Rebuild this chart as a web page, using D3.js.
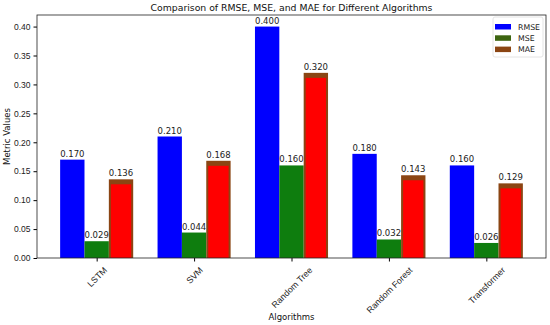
<!DOCTYPE html>
<html lang="en">
<head>
<meta charset="UTF-8">
<title>RMSE MSE MAE</title>
<script src="https://cdn.jsdelivr.net/npm/d3@7"></script>
<style>
    body { margin: 0; background: #fff; }
    svg { font-family: "DejaVu Sans", sans-serif; }
    .tick text { fill: #222; }
</style>
</head>
<body>
<svg id="chart" width="550" height="325"></svg>
<script>
    var algorithms = ["LSTM", "SVM", "Random Tree", "Random Forest", "Transformer"];
    var rmse = [0.170, 0.210, 0.400, 0.180, 0.160];
    var mse = [0.029, 0.044, 0.160, 0.032, 0.026];
    var mae = [0.136, 0.168, 0.320, 0.143, 0.129];
    var yTicks = [0, 0.05, 0.10, 0.15, 0.20, 0.25, 0.30, 0.35, 0.40];

    var series = [
        {name: "RMSE", values: rmse, color: "#0000ff", swatch: "#0000ff"},
        {name: "MSE", values: mse, color: "#0e7d0e", swatch: "#3c6410"},
        {name: "MAE", values: mae, color: "#ff0000", swatch: "#8b4513"}
    ];

    var m = {left: 37, right: 546, top: 15, bottom: 258};
    var svg = d3.select("#chart");

    var x = d3.scaleLinear().domain([-0.6125, 4.6125]).range([m.left, m.right]);
    var y = d3.scaleLinear().domain([0, 0.42]).range([m.bottom, m.top]);
    var barW = 0.25;

    // bars
    series.forEach(function(s, i) {
        var g = svg.append("g");
        var off = (i - 1) * barW;
        g.selectAll("rect.bar")
            .data(s.values)
            .enter()
            .append("rect")
            .attr("class", "bar")
            .attr("x", function(d, j) { return x(j + off - barW / 2); })
            .attr("width", x(barW) - x(0))
            .attr("y", function(d) { return y(d); })
            .attr("height", function(d) { return m.bottom - y(d); })
            .attr("fill", s.name === "MAE" ? s.swatch : s.color);

        if (s.name === "MAE") {
            g.selectAll("rect.inner")
                .data(s.values)
                .enter()
                .append("rect")
                .attr("class", "inner")
                .attr("x", function(d, j) { return x(j + off - barW / 2) + 2; })
                .attr("width", x(barW) - x(0) - 4)
                .attr("y", function(d) { return y(d) + 5; })
                .attr("height", function(d) { return m.bottom - y(d) - 5; })
                .attr("fill", s.color);
        }

        g.selectAll("text")
            .data(s.values)
            .enter()
            .append("text")
            .attr("x", function(d, j) { return x(j + off); })
            .attr("y", function(d) { return y(d) - 3; })
            .attr("text-anchor", "middle")
            .attr("font-size", "8.5px")
            .attr("fill", "#222")
            .text(function(d) { return d3.format(".3f")(d); });
    });

    // axes
    var yAxis = d3.axisLeft(y).tickValues(yTicks).tickFormat(d3.format(".2f")).tickSize(3.5).tickPadding(3);
    svg.append("g")
        .attr("transform", "translate(" + m.left + ",0)")
        .call(yAxis)
        .call(function(g) { g.select(".domain").remove(); })
        .selectAll("text").attr("font-size", "8.5px");

    var xAxis = d3.axisBottom(x).tickValues(d3.range(algorithms.length))
        .tickFormat(function(d) { return algorithms[d]; }).tickSize(3.5);
    var xg = svg.append("g")
        .attr("transform", "translate(0," + m.bottom + ")")
        .call(xAxis);
    xg.select(".domain").remove();
    // rotated labels centred on the tick, top of the rotated box under the tick
    var fs = 8.8, labelTop = 7.5;
    xg.selectAll("text")
        .attr("font-size", fs + "px")
        .attr("text-anchor", "middle")
        .attr("y", 0)
        .attr("dy", "0.35em")
        .attr("transform", function() {
            var len = this.getComputedTextLength();
            var half = (len + fs) * Math.SQRT1_2 / 2;
            return "translate(0," + (labelTop + half) + ") rotate(-45)";
        });

    svg.append("rect")
        .attr("x", m.left).attr("y", m.top)
        .attr("width", m.right - m.left).attr("height", m.bottom - m.top)
        .attr("fill", "none").attr("stroke", "#222").attr("stroke-width", 0.8);

    // titles
    svg.append("text")
        .attr("x", (m.left + m.right) / 2).attr("y", 11)
        .attr("text-anchor", "middle").attr("font-size", "9.3px").attr("fill", "#111")
        .text("Comparison of RMSE, MSE, and MAE for Different Algorithms");

    svg.append("text")
        .attr("x", (m.left + m.right) / 2).attr("y", 320)
        .attr("text-anchor", "middle").attr("font-size", "8.5px").attr("fill", "#111")
        .text("Algorithms");

    svg.append("text")
        .attr("transform", "translate(10," + ((m.top + m.bottom) / 2) + ") rotate(-90)")
        .attr("text-anchor", "middle").attr("font-size", "8.5px").attr("fill", "#111")
        .text("Metric Values");

    // legend
    var lg = svg.append("g").attr("transform", "translate(493,17)");
    lg.append("rect")
        .attr("width", 50).attr("height", 40).attr("rx", 2)
        .attr("fill", "#fff").attr("fill-opacity", 0.85)
        .attr("stroke", "#ddd").attr("stroke-width", 0.8);
    series.forEach(function(s, i) {
        lg.append("rect")
            .attr("x", 2).attr("y", 7 + i * 11.3)
            .attr("width", 16).attr("height", 5.5)
            .attr("fill", s.swatch);
        lg.append("text")
            .attr("x", 25).attr("y", 12.5 + i * 11.3)
            .attr("font-size", "7.8px").attr("fill", "#222")
            .text(s.name);
    });
</script>
</body>
</html>
